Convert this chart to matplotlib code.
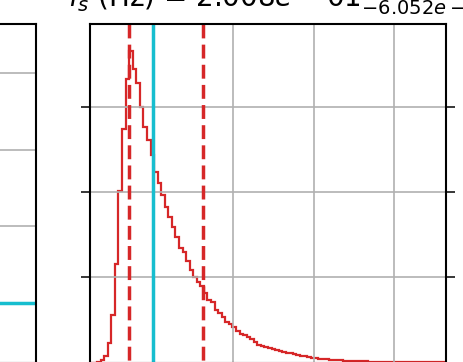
import numpy as np
import matplotlib
matplotlib.use('Agg')
import matplotlib.pyplot as plt

# posterior del parametro f_s (Hz), histograma de 100 bins
fs_rango = (0.0433, 0.9294)
fs_cuentas = [0.000, 0.000, 0.005, 0.029, 0.080, 0.233, 0.559, 1.159, 2.021, 2.744,
              3.332, 3.665, 3.453, 3.292, 3.009, 2.767, 2.618, 2.441, 2.245, 2.108,
              1.971, 1.833, 1.706, 1.591, 1.480, 1.344, 1.304, 1.198, 1.088, 1.002,
              0.951, 0.900, 0.814, 0.735, 0.715, 0.621, 0.582, 0.539, 0.480, 0.447,
              0.421, 0.374, 0.335, 0.318, 0.294, 0.276, 0.245, 0.206, 0.194, 0.179,
              0.165, 0.155, 0.147, 0.139, 0.127, 0.115, 0.108, 0.100, 0.088, 0.080,
              0.073, 0.065, 0.056, 0.053, 0.047, 0.041, 0.038, 0.034, 0.032, 0.027,
              0.025, 0.022, 0.021, 0.020, 0.018, 0.016, 0.014, 0.012, 0.010, 0.009,
              0.008, 0.007, 0.006, 0.005, 0.004, 0.004, 0.003, 0.003, 0.003, 0.002,
              0.002, 0.002, 0.002, 0.001, 0.001, 0.001, 0.001, 0.001, 0.001, 0.001]
fs_mediana = 2.008e-01
fs_menos = 6.052e-02
fs_mas = 1.238e-01
fs_real = 0.2
ticks_fs = [0.2, 0.4, 0.6, 0.8]
ticks_cuentas = [1, 2, 3]
ylim_cuentas = 3.98

rojo = '#d62728'
cian = '#17becf'

plt.rcParams['axes.linewidth'] = 1.5
plt.rcParams['grid.color'] = '#b0b0b0'
plt.rcParams['grid.linewidth'] = 1.2

W, H = 463., 362.
fig = plt.figure(figsize=(W/100., H/100.), dpi=100)

# panel 2D a la izquierda (fs en el eje y)
ax0 = fig.add_axes([-300/W, -0.5/H, 336/W, 338.5/H])
ax0.set_ylim(fs_rango)
ax0.set_xlim(0, 1)
ax0.set_yticks(ticks_fs)
ax0.set_xticks([])
ax0.set_yticklabels([])
ax0.grid(True, axis='y')
ax0.axhline(fs_real, color=cian, lw=2.5)
ax0.tick_params(right=False)

# histograma marginal
ax1 = fig.add_axes([90/W, -0.5/H, 356/W, 338.5/H])
bordes = np.linspace(fs_rango[0], fs_rango[1], len(fs_cuentas) + 1)
ax1.stairs(fs_cuentas, bordes, color=rojo, lw=1.6)
for q in [fs_mediana - fs_menos, fs_mediana + fs_mas]:
    ax1.axvline(q, ymin=1, ymax=0, color=rojo, lw=2.5, ls=(0, (4, 1.8)))
ax1.axvline(fs_real, color=cian, lw=2.5)
ax1.set_xlim(fs_rango)
ax1.set_ylim(0, ylim_cuentas)
ax1.set_xticks(ticks_fs)
ax1.set_yticks(ticks_cuentas)
ax1.set_xticklabels([])
ax1.set_yticklabels([])
ax1.tick_params(axis='y', direction='out', length=6.5, width=1.1, left=True, right=True)
ax1.grid(True)

titulo = r'$f_s$ (Hz) = $%.3e_{-%.3e}^{+%.3e}$' % (fs_mediana, fs_menos, fs_mas)
ax1.set_title(titulo, fontsize=20, pad=12, x=0.537)

plt.savefig('out.png', dpi=100)
plt.close('all')
